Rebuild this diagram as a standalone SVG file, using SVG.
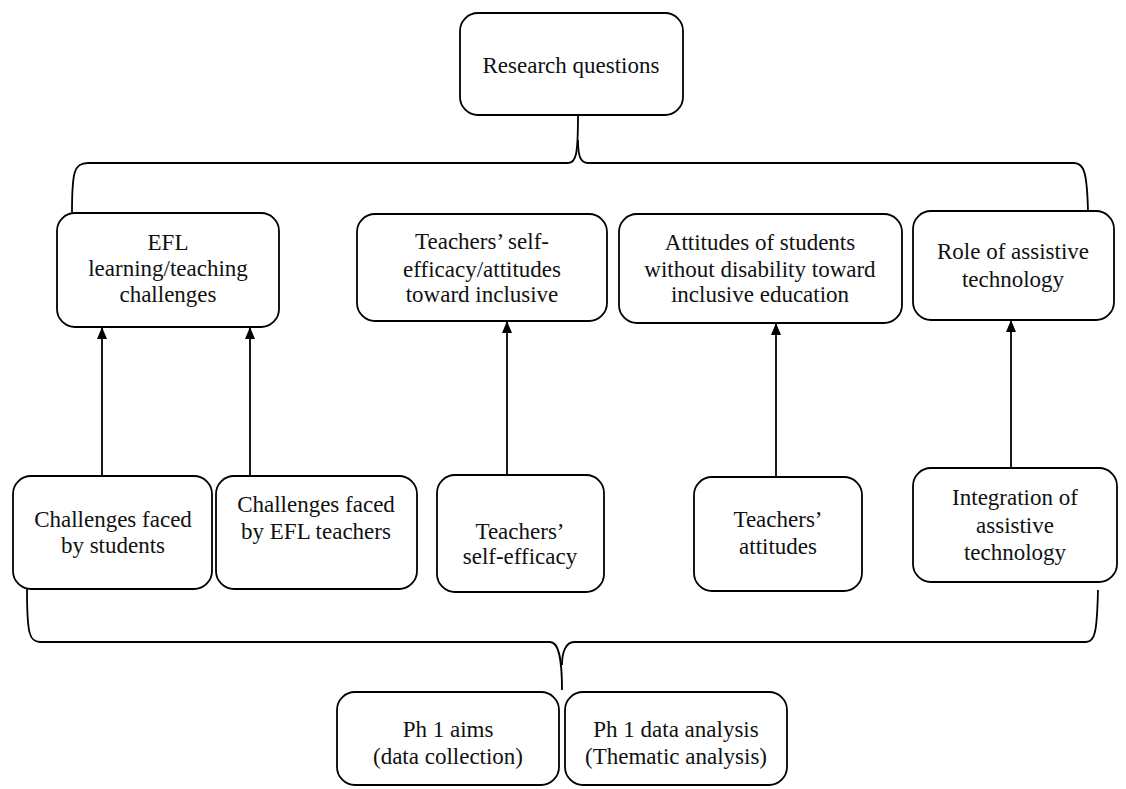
<svg xmlns="http://www.w3.org/2000/svg" width="1126" height="789" viewBox="0 0 1126 789" font-family="'Liberation Serif', 'Times New Roman', 'DejaVu Serif', serif">
<style>
.box{fill:#fff;stroke:#000;stroke-width:1.8}
.t{font-family:'Liberation Serif','Times New Roman','DejaVu Serif',serif;font-size:23px;fill:#111;text-anchor:middle}
.c{fill:none;stroke:#000;stroke-width:1.8}
</style>
<defs>
<marker id="ah" markerWidth="12" markerHeight="10" refX="11" refY="5" orient="auto" markerUnits="userSpaceOnUse" viewBox="0 0 12 10">
<path d="M0,0 L12,5 L0,10 Z" fill="#000"/>
</marker>
</defs>
<rect width="1126" height="789" fill="#fff"/>
<g id="connectors">
<path class="c" d="M72,212 C72,172 74,163 88,163 L568,163 C576,163 578,155 578,115"/>
<path class="c" d="M578,140 C578,155 580,163 588,163 L1074,163 C1084,163 1087,172 1088,211"/>
<path class="c" d="M27,589 C27,632 29,642 40,642 L550,642 C558,642 562,655 562,690"/>
<path class="c" d="M562,665 C562,652 566,642 574,642 L1086,642 C1095,642 1097,632 1098,590"/>
<line class="c" x1="102" y1="476" x2="102" y2="328" marker-end="url(#ah)"/>
<line class="c" x1="250" y1="476" x2="250" y2="328" marker-end="url(#ah)"/>
<line class="c" x1="507" y1="474" x2="507" y2="322" marker-end="url(#ah)"/>
<line class="c" x1="776" y1="477" x2="776" y2="324" marker-end="url(#ah)"/>
<line class="c" x1="1011" y1="468" x2="1011" y2="321" marker-end="url(#ah)"/>
</g>
<g id="research-questions">
<rect class="box" x="460" y="13" width="223" height="102" rx="18"/>
<text class="t" x="571" y="73">Research questions</text>
</g>
<g id="efl-challenges">
<rect class="box" x="57" y="213" width="222" height="114" rx="18"/>
<text class="t" x="168" y="250">EFL</text>
<text class="t" x="168" y="276">learning/teaching</text>
<text class="t" x="168" y="302">challenges</text>
</g>
<g id="teachers-self-efficacy-attitudes">
<rect class="box" x="357" y="214" width="250" height="107" rx="18"/>
<text class="t" x="482" y="249">Teachers’ self-</text>
<text class="t" x="482" y="277">efficacy/attitudes</text>
<text class="t" x="482" y="302">toward inclusive</text>
</g>
<g id="attitudes-students">
<rect class="box" x="619" y="214" width="283" height="109" rx="18"/>
<text class="t" x="760" y="250">Attitudes of students</text>
<text class="t" x="760" y="277">without disability toward</text>
<text class="t" x="760" y="302">inclusive education</text>
</g>
<g id="role-assistive">
<rect class="box" x="913" y="211" width="201" height="109" rx="18"/>
<text class="t" x="1013" y="259">Role of assistive</text>
<text class="t" x="1013" y="287">technology</text>
</g>
<g id="challenges-students">
<rect class="box" x="13" y="476" width="199" height="113" rx="18"/>
<text class="t" x="113" y="527">Challenges faced</text>
<text class="t" x="113" y="553">by students</text>
</g>
<g id="challenges-teachers">
<rect class="box" x="216" y="476" width="201" height="113" rx="18"/>
<text class="t" x="316" y="512">Challenges faced</text>
<text class="t" x="316" y="539">by EFL teachers</text>
</g>
<g id="teachers-self-efficacy">
<rect class="box" x="437" y="475" width="167" height="117" rx="18"/>
<text class="t" x="520" y="539">Teachers’</text>
<text class="t" x="520" y="564">self-efficacy</text>
</g>
<g id="teachers-attitudes">
<rect class="box" x="694" y="477" width="168" height="114" rx="18"/>
<text class="t" x="778" y="527">Teachers’</text>
<text class="t" x="778" y="554">attitudes</text>
</g>
<g id="integration-assistive">
<rect class="box" x="913" y="468" width="204" height="114" rx="18"/>
<text class="t" x="1015" y="505">Integration of</text>
<text class="t" x="1015" y="533">assistive</text>
<text class="t" x="1015" y="560">technology</text>
</g>
<g id="ph1-aims">
<rect class="box" x="337" y="692" width="222" height="93" rx="18"/>
<text class="t" x="448" y="737">Ph 1 aims</text>
<text class="t" x="448" y="764">(data collection)</text>
</g>
<g id="ph1-analysis">
<rect class="box" x="565" y="692" width="222" height="93" rx="18"/>
<text class="t" x="676" y="737">Ph 1 data analysis</text>
<text class="t" x="676" y="764">(Thematic analysis)</text>
</g>
</svg>
